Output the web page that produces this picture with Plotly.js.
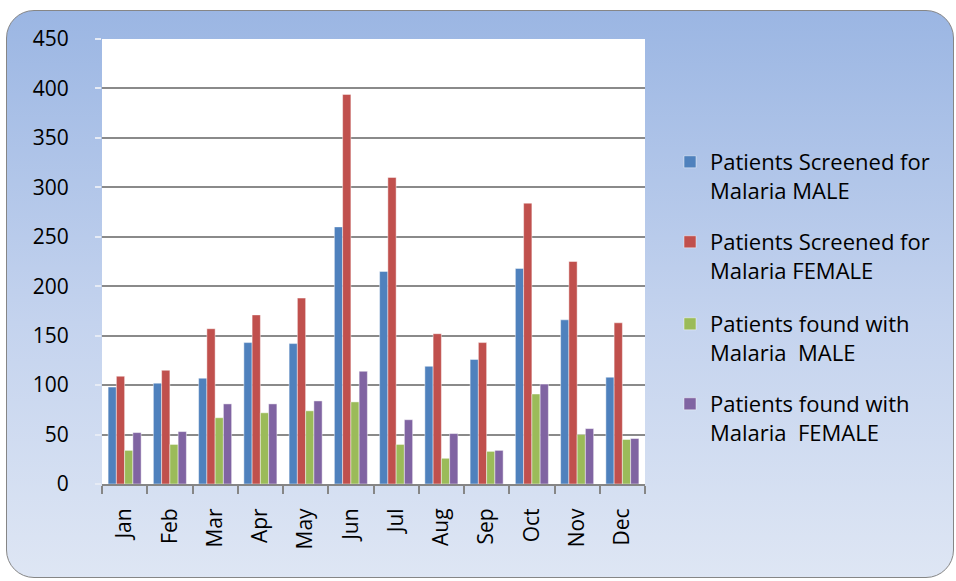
<!DOCTYPE html>
<html>
<head>
<meta charset="utf-8">
<script src="https://cdn.plot.ly/plotly-3.0.1.min.js"></script>
<style>
  html, body { margin: 0; padding: 0; background: #ffffff; }
  #wrap { position: relative; width: 956px; height: 581px; overflow: hidden; }
  #bg {
    position: absolute; left: 6px; top: 10px; width: 946px; height: 566px;
    border: 1.5px solid #868686; border-radius: 28px;
    background: linear-gradient(to bottom, #9bb6e3 0%, #c4d3ee 55%, #dee6f4 100%);
  }
  #chart { position: absolute; left: 0; top: 0; width: 956px; height: 581px; }
</style>
</head>
<body>
<div id="wrap">
  <div id="bg"></div>
  <div id="chart"></div>
</div>
<script>
const months = ["Jan","Feb","Mar","Apr","May","Jun","Jul","Aug","Sep","Oct","Nov","Dec"];
const screenedMale   = [98, 102, 107, 143, 142, 260, 215, 119, 126, 218, 166, 108];
const screenedFemale = [109, 115, 157, 171, 188, 394, 310, 152, 143, 284, 225, 163];
const foundMale      = [34, 40, 67, 72, 74, 83, 40, 26, 33, 91, 50, 45];
const foundFemale    = [52, 53, 81, 81, 84, 114, 65, 51, 34, 101, 56, 46];
const seriesNames = [
  "Patients Screened for<br>Malaria MALE",
  "Patients Screened for<br>Malaria FEMALE",
  "Patients found with<br>Malaria  MALE",
  "Patients found with<br>Malaria  FEMALE"
];
const yTicks = [0, 50, 100, 150, 200, 250, 300, 350, 400, 450];

const colors = ["#4f81bd", "#c0504d", "#9bbb59", "#8064a2"];
const values = [screenedMale, screenedFemale, foundMale, foundFemale];
const legendIds = ["legend", "legend2", "legend3", "legend4"];

const traces = values.map((v, i) => ({
  type: "bar",
  x: months,
  y: v,
  name: seriesNames[i],
  legend: legendIds[i],
  marker: { color: colors[i], line: { color: "rgba(255,255,255,0.45)", width: 1 } },
  hoverinfo: "x+y+name"
}));

const legendTops = [141, 221, 303, 383];
const FONT = "'Open Sans', Lato, sans-serif";
const legendFont = { family: FONT, size: 22, color: "#000000" };
function mkLegend(i) {
  return {
    xref: "container", yref: "container",
    x: 670 / 956, y: 1 - legendTops[i] / 581,
    xanchor: "left", yanchor: "top",
    bgcolor: "rgba(0,0,0,0)", borderwidth: 0,
    font: legendFont, valign: "top", itemwidth: 30
  };
}

const layout = {
  width: 956, height: 581,
  margin: { l: 102, r: 311, t: 39, b: 97, pad: 0 },
  paper_bgcolor: "rgba(0,0,0,0)",
  plot_bgcolor: "#ffffff",
  barmode: "group",
  bargap: 0.27,
  bargroupgap: 0,
  showlegend: true,
  legend: mkLegend(0),
  legend2: mkLegend(1),
  legend3: mkLegend(2),
  legend4: mkLegend(3),
  xaxis: {
    type: "category",
    categoryorder: "array", categoryarray: months,
    tickangle: -90,
    tickfont: { family: FONT, size: 21, color: "#000000" },
    showline: true, linecolor: "#868686", linewidth: 2,
    ticks: "outside", tickson: "boundaries", ticklen: 8, tickcolor: "#868686", tickwidth: 2,
    ticklabelstandoff: 14,
    showgrid: false, zeroline: false
  },
  yaxis: {
    range: [0, 450],
    tickmode: "array", tickvals: yTicks, ticktext: yTicks.map(String),
    tickfont: { family: FONT, size: 21, color: "#000000" },
    showgrid: true, gridcolor: "#8a8a8a", gridwidth: 1.6,
    showline: false, zeroline: false,
    ticks: "outside", ticklen: 6, tickcolor: "#e6ebf5", tickwidth: 1.5,
    ticklabelstandoff: 22
  }
};

Plotly.newPlot("chart", traces, layout, { displayModeBar: false, staticPlot: false });
</script>
</body>
</html>
